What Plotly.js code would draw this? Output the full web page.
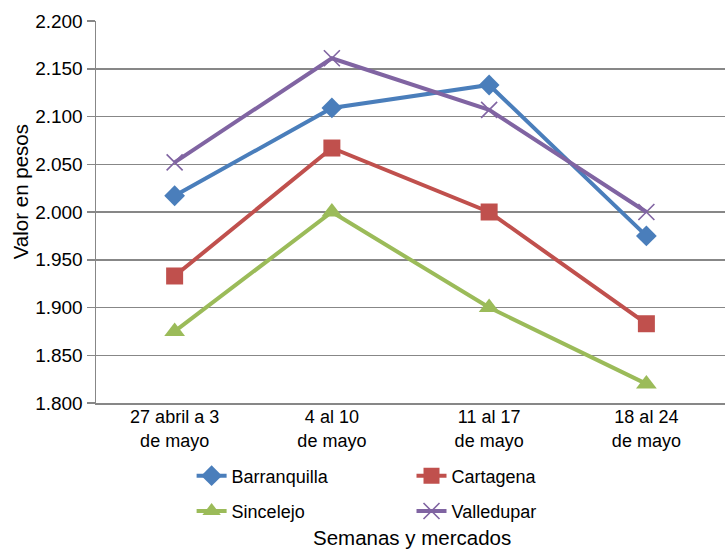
<!DOCTYPE html>
<html>
<head>
<meta charset="utf-8">
<script src="https://cdn.plot.ly/plotly-3.0.1.min.js"></script>
<style>html,body{margin:0;padding:0;background:#fff;}</style>
</head>
<body>
<div id="chart" style="width:725px;height:550px;"></div>
<script>
var categories = ["27 abril a 3<br>de mayo", "4 al 10<br>de mayo", "11 al 17<br>de mayo", "18 al 24<br>de mayo"];
var barranquilla = [2017, 2109, 2133, 1975];
var cartagena = [1933, 2067, 2000, 1883];
var sincelejo = [1875, 2000, 1900, 1820];
var valledupar = [2052, 2161, 2107, 2000];
var yTicks = [1800, 1850, 1900, 1950, 2000, 2050, 2100, 2150, 2200];

var FONT = "Liberation Sans, Arial, sans-serif";

function series(name, y, color, symbol, size, legend, extra) {
  var m = {symbol: symbol, size: size, color: color};
  if (extra) { m.line = {color: color, width: 1.6}; }
  return {
    type: "scatter", mode: "lines+markers", name: name,
    x: categories, y: y, legend: legend, legendgroup: name,
    line: {color: color, width: 4},
    marker: m, cliponaxis: false
  };
}

var data = [
  series("Barranquilla", barranquilla, "#4A7EBB", "diamond", 16, "legend"),
  series("Cartagena", cartagena, "#C0504D", "square", 17, "legend2"),
  series("Sincelejo", sincelejo, "#9BBB59", "triangle-up", 18, "legend"),
  series("Valledupar", valledupar, "#8064A2", "x-thin", 16, "legend2", true)
];

var legendCommon = {
  orientation: "v", traceorder: "grouped", tracegroupgap: 9,
  font: {family: FONT, size: 18, color: "#000"},
  bgcolor: "rgba(0,0,0,0)", borderwidth: 0,
  xanchor: "left", yanchor: "top", y: -0.1425
};

var layout = {
  width: 725, height: 550,
  margin: {l: 96, r: 0, t: 21, b: 147},
  paper_bgcolor: "#fff", plot_bgcolor: "#fff",
  font: {family: FONT, color: "#000"},
  separators: ",.",
  xaxis: {
    type: "category", range: [-0.5, 3.5],
    showgrid: false, showline: true, linecolor: "#878787", linewidth: 1.5,
    ticks: "", tickfont: {family: FONT, size: 18, color: "#000"},
    ticklabelstandoff: -3,
    zeroline: false, fixedrange: true
  },
  yaxis: {
    range: [1800, 2200], tickvals: yTicks, tickformat: ",d",
    showgrid: true, gridcolor: "#878787", gridwidth: 1.5,
    showline: true, linecolor: "#878787", linewidth: 1.5,
    ticks: "outside", ticklen: 8, tickcolor: "#878787", tickwidth: 1.5,
    tickfont: {family: FONT, size: 19, color: "#000"},
    zeroline: false, fixedrange: true
  },
  legend: Object.assign({}, legendCommon, {x: 0.152}),
  legend2: Object.assign({}, legendCommon, {x: 0.5016}),
  annotations: [
    {text: "Valor en pesos", xref: "paper", yref: "paper", x: -0.1206, y: 0.552,
     textangle: -90, showarrow: false, xanchor: "center", yanchor: "middle",
     font: {family: FONT, size: 20.5, color: "#000"}},
    {text: "Semanas y mercados", xref: "paper", yref: "paper", x: 0.502, y: -0.351,
     showarrow: false, xanchor: "center", yanchor: "middle",
     font: {family: FONT, size: 20.5, color: "#000"}}
  ],
  showlegend: true
};

Plotly.newPlot("chart", data, layout, {displayModeBar: false, staticPlot: true});
</script>
</body>
</html>
